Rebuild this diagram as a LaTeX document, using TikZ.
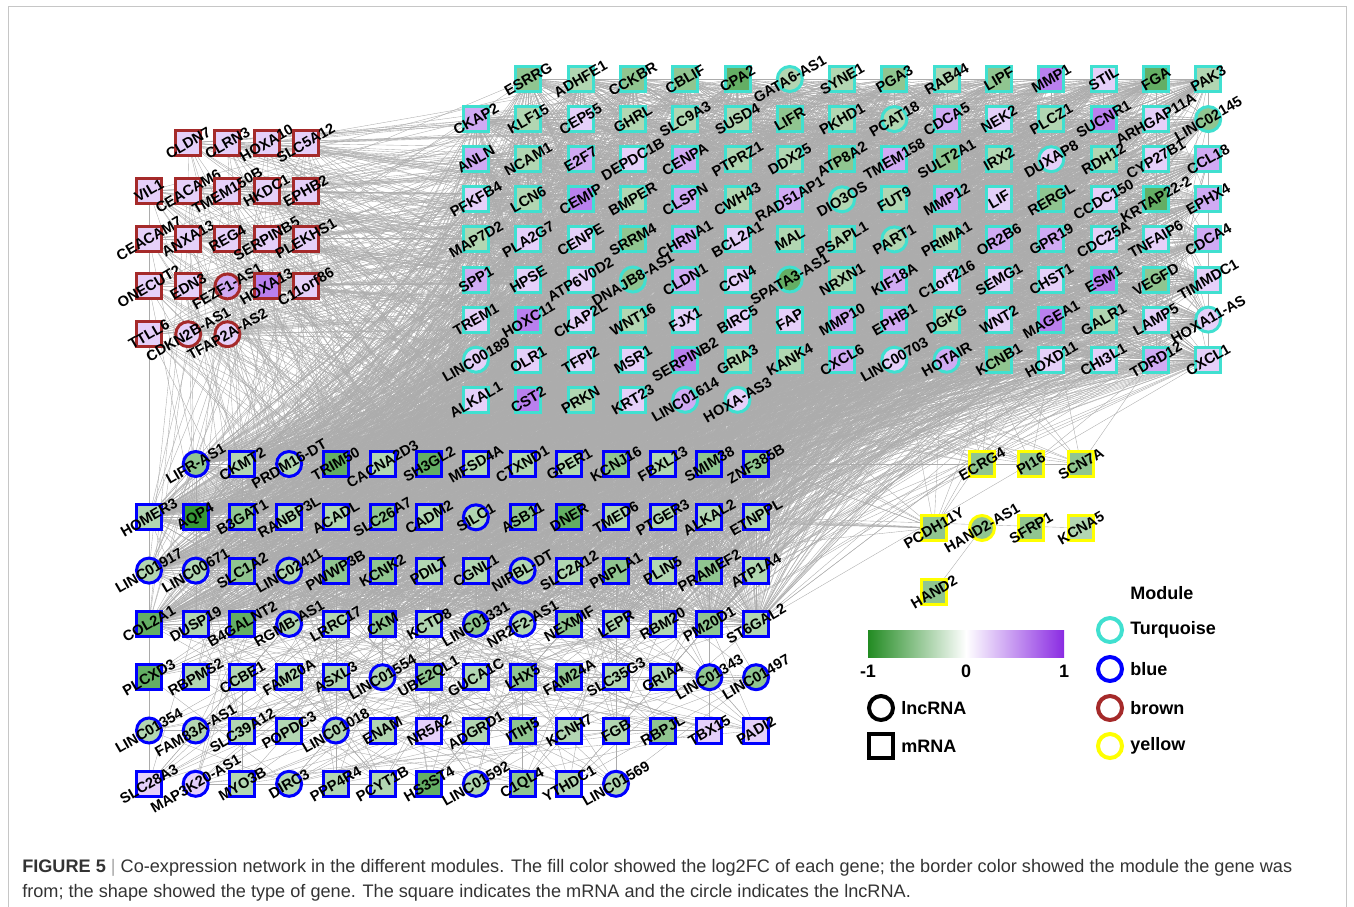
\documentclass[tikz,border=0pt]{standalone}
\usepackage{fontspec}
\setmainfont{Liberation Sans}
\usetikzlibrary{backgrounds}
\definecolor{FCneg}{RGB}{34,139,34}
\definecolor{FCpos}{RGB}{138,43,226}
\definecolor{ModTurq}{RGB}{64,224,208}
\definecolor{ModBlue}{RGB}{0,0,255}
\definecolor{ModBrown}{RGB}{165,42,42}
\definecolor{ModYellow}{RGB}{255,255,0}
\colorlet{g1}{FCneg!35}
\colorlet{g2}{FCneg!50}
\colorlet{g3}{FCneg!70}
\colorlet{g4}{FCneg!90}
\colorlet{p1}{FCpos!22}
\colorlet{p2}{FCpos!40}
\colorlet{p3}{FCpos!60}

\begin{document}
\begin{tikzpicture}[x=0.75pt, y=-0.75pt,
	gene/.style={line width=2.25pt, minimum size=18.75pt, inner sep=0pt, outer sep=0pt},
	sq/.style={gene, rectangle},
	ci/.style={gene, circle},
	glabel/.style={font=\fontsize{11}{11}\selectfont\bfseries, rotate=30, inner sep=0pt},
	legtext/.style={font=\fontsize{13.5}{13.5}\selectfont\bfseries, inner sep=0pt},
	legmark/.style={line width=3pt, minimum size=18pt, inner sep=0pt, fill=white},
	edge/.style={draw=gray!65, line width=0.28pt}]
		\useasboundingbox (0,0) rectangle (1354,907);
		\draw[gray!45, line width=0.6pt] (8,907) -- (8,6) -- (1346,6) -- (1346,907);
		
		% brown module
		\foreach \lab/\shp/\fc [count=\n] in {CLDN7/sq/p1, CLRN3/sq/p1, HOXA10/sq/p1, SLC5A12/sq/p1,
			VIL1/sq/p1, CEACAM6/sq/p1, TMEM150B/sq/p1, HKDC1/sq/p1, EPHB2/sq/p1,
			CEACAM7/sq/p1, ANXA13/sq/p1, REG4/sq/p1, SERPINB5/sq/p1, PLEKHS1/sq/p1,
			ONECUT2/sq/p1, EDN3/sq/p1, FEZF1-AS1/ci/p2, HOXA13/sq/p3, C11orf86/sq/p1,
			TTLL6/sq/p1, CDKN2B-AS1/ci/p1, TFAP2A-AS2/ci/p1}{
			\pgfmathsetmacro\xx{149+39.2*mod(\n,5)}
			\pgfmathsetmacro\yy{143+47.8*floor(\n/5)}
			\node[\shp, draw=ModBrown, fill=\fc, label={[glabel]center:\lab}] (r\n) at (\xx,\yy) {};
		}
		
		% turquoise module
		\foreach \lab/\shp/\fc [count=\n] in {ESRRG/sq/g2, ADHFE1/sq/g1, CCKBR/sq/g2, CBLIF/sq/g2, CPA2/sq/g3, GATA6-AS1/ci/g1, SYNE1/sq/g1, PGA3/sq/g2, RAB44/sq/g1, LIPF/sq/g2, MMP1/sq/p3, STIL/sq/p1, FGA/sq/g3, PAK3/sq/g1,
			CKAP2/sq/p2, KLF15/sq/g1, CEP55/sq/p1, GHRL/sq/g1, SLC9A3/sq/g1, SUSD4/sq/g1, LIFR/sq/g2, PKHD1/sq/g1, PCAT18/ci/g1, CDCA5/sq/p2, NEK2/sq/p1, PLCZ1/sq/g1, SUCNR1/sq/p3, ARHGAP11A/sq/p1, LINC02145/ci/g2,
			ANLN/sq/p2, NCAM1/sq/g1, E2F7/sq/p2, DEPDC1B/sq/p1, CENPA/sq/p2, PTPRZ1/sq/g1, DDX25/sq/g1, ATP8A2/sq/g2, TMEM158/sq/p2, SULT2A1/sq/g2, IRX2/sq/g1, DUXAP8/ci/p1, RDH12/sq/g1, CYP27B1/sq/p1, CCL18/sq/p2,
			PFKFB4/sq/p1, LCN6/sq/g1, CEMIP/sq/p3, BMPER/sq/g1, CLSPN/sq/p2, CWH43/sq/g1, RAD51AP1/sq/p2, DIO3OS/ci/g1, FUT9/sq/g1, MMP12/sq/p2, LIF/sq/p1, RERGL/sq/g2, CCDC150/sq/p1, KRTAP22-2/sq/g3, EPHX4/sq/p2,
			MAP7D2/sq/g1, PLA2G7/sq/p1, CENPE/sq/p1, SRRM4/sq/g2, CHRNA1/sq/p2, BCL2A1/sq/p1, MAL/sq/g1, PSAPL1/sq/g1, PART1/ci/g1, PRIMA1/sq/g1, OR2B6/sq/p2, GPR19/sq/p2, CDC25A/sq/p1, TNFAIP6/sq/p1, CDCA4/sq/p2,
			SPP1/sq/p2, HPSE/sq/p1, ATP6V0D2/sq/p1, DNAJB8-AS1/ci/g2, CLDN1/sq/p2, CCN4/sq/p1, SPATA3-AS1/ci/g3, NRXN1/sq/g1, KIF18A/sq/p2, C1orf216/sq/p1, SEMG1/sq/p1, CHST1/sq/p1, ESM1/sq/p3, VEGFD/sq/g2, TIMMDC1/sq/p1,
			TREM1/sq/p1, HOXC11/sq/p3, CKAP2L/sq/p1, WNT16/sq/g1, FJX1/sq/p1, BIRC5/sq/p1, FAP/sq/p1, MMP10/sq/p2, EPHB1/sq/p2, DGKG/sq/g1, WNT2/sq/p1, MAGEA1/sq/p3, GALR1/sq/g1, LAMP5/sq/p1, HOXA11-AS/ci/p1,
			LINC00189/ci/p1, OLR1/sq/p1, TFPI2/sq/p1, MSR1/sq/p1, SERPINB2/sq/p3, GRIA3/sq/g1, KANK4/sq/g1, CXCL6/sq/p2, LINC00703/ci/p1, HOTAIR/ci/p2, KCNB1/sq/g2, HOXD11/sq/p1, CHI3L1/sq/p1, TDRD12/sq/p2, CXCL1/sq/p1,
			ALKAL1/sq/p1, CST2/sq/p3, PRKN/sq/g1, KRT23/sq/p1, LINC01614/ci/p2, HOXA-AS3/ci/p1}{
			\pgfmathsetmacro\xx{476+52.3*mod(\n,15)}
			\pgfmathsetmacro\yy{79+40.1*floor(\n/15)}
			\node[\shp, draw=ModTurq, fill=\fc, label={[glabel]center:\lab}] (t\n) at (\xx,\yy) {};
		}
		
		% blue module
		\foreach \lab/\shp/\fc [count=\n] in {LIFR-AS1/ci/g2, CKMT2/sq/g1, PRDM16-DT/ci/g1, TRIM50/sq/g3, CACNA2D3/sq/g1, SH3GL2/sq/g3, MFSD4A/sq/g1, CTXND1/sq/g1, GPER1/sq/g1, KCNJ16/sq/g2, FBXL13/sq/g1, SMIM38/sq/g2, ZNF385B/sq/g2,
			HOMER3/sq/g1, AQP4/sq/g4, B3GAT1/sq/g2, RANBP3L/sq/g1, ACADL/sq/g1, SLC26A7/sq/g2, CADM2/sq/g1, SILC1/ci/g1, ASB11/sq/g2, DNER/sq/g3, TMED6/sq/g1, PTGER3/sq/g1, ALKAL2/sq/g1, ETNPPL/sq/g1,
			LINC01917/ci/g1, LINC00671/ci/g1, SLC1A2/sq/g2, LINC02411/ci/g1, PWWP3B/sq/g2, KCNK2/sq/g2, PDILT/sq/g1, CGNL1/sq/g1, NIPBL-DT/ci/g1, SLC2A12/sq/g1, PNPLA1/sq/g2, PLIN5/sq/g1, PRAMEF2/sq/g2, ATP1A4/sq/g1,
			COL2A1/sq/g3, DUSP19/sq/g1, B4GALNT2/sq/g3, RGMB-AS1/ci/g1, LRRC17/sq/g1, CKM/sq/g2, KCTD8/sq/g1, LINC01331/ci/g2, NR2F2-AS1/ci/g1, NEXMIF/sq/g2, LEPR/sq/g1, RBM20/sq/g1, PM20D1/sq/g2, ST6GAL2/sq/g1,
			PLCXD3/sq/g3, RBPMS2/sq/g1, CCBE1/sq/g1, FAM20A/sq/g1, ASXL3/sq/g1, LINC01554/ci/g1, UBE2QL1/sq/g2, GUCA1C/sq/g1, LHX5/sq/g2, FAM24A/sq/g2, SLC35G3/sq/g1, GRIA4/sq/g1, LINC01343/ci/g2, LINC01497/ci/g2,
			LINC01354/ci/g1, FAM83A-AS1/ci/g1, SLC39A12/sq/g1, POPDC3/sq/g1, LINC01018/ci/g1, ENAM/sq/g1, NR5A2/sq/p1, ADGRD1/sq/g1, ITIH5/sq/g2, KCNH7/sq/g1, FGB/sq/g1, RBPJL/sq/g2, TBX15/sq/p1, PADI2/sq/p1,
			SLC28A3/sq/p1, MAP3K20-AS1/ci/p1, MYO3B/sq/g1, DIRC3/ci/g1, PPP4R4/sq/g1, PCYT1B/sq/g1, HS3ST4/sq/g3, LINC01592/ci/g1, C1QL4/sq/g2, YTHDC1/sq/g1, LINC01569/ci/g1}{
			\pgfmathsetmacro\xx{149+46.7*mod(\n,14)}
			\pgfmathsetmacro\yy{464+53.3*floor(\n/14)}
			\node[\shp, draw=ModBlue, fill=\fc, label={[glabel]center:\lab}] (b\n) at (\xx,\yy) {};
		}
		
		% yellow module
		\node[sq, draw=ModYellow, fill=g2, label={[glabel]center:ECRG4}] (y1) at (982,464) {};
		\node[sq, draw=ModYellow, fill=g2, label={[glabel]center:PI16}] (y2) at (1031,464) {};
		\node[sq, draw=ModYellow, fill=g2, label={[glabel]center:SCN7A}] (y3) at (1081,464) {};
		\node[sq, draw=ModYellow, fill=g2, label={[glabel]center:PCDH11Y}] (y4) at (934,528) {};
		\node[ci, draw=ModYellow, fill=g2, label={[glabel]center:HAND2-AS1}] (y5) at (982,528) {};
		\node[sq, draw=ModYellow, fill=g2, label={[glabel]center:SFRP1}] (y6) at (1031,528) {};
		\node[sq, draw=ModYellow, fill=g1, label={[glabel]center:KCNA5}] (y7) at (1081,528) {};
		\node[sq, draw=ModYellow, fill=g2, label={[glabel]center:HAND2}] (y8) at (934,592) {};
		
		% co-expression edges
		\begin{scope}[on background layer]
			\foreach \i in {1,...,125}{
				\foreach \k in {1,...,24}{
					\pgfmathtruncatemacro\j{mod(\i*13+\k*29,55)+1}
					\draw[edge] (t\i) -- (b\j);
				}
				\foreach \k in {1,...,22}{
					\pgfmathtruncatemacro\j{mod(\i*7+\k*23,125)+1}
					\draw[edge] (t\i) -- (t\j);
				}
			}
			\foreach \i in {1,...,55}{
				\foreach \k in {1,...,12}{
					\pgfmathtruncatemacro\j{mod(\i*9+\k*13,55)+1}
					\draw[edge] (b\i) -- (b\j);
				}
			}
			\foreach \i in {1,...,94}{
				\foreach \k in {1,...,5}{
					\pgfmathtruncatemacro\j{mod(\i*11+\k*17,94)+1}
					\draw[edge] (b\i) -- (b\j);
				}
			}
			\foreach \i in {1,...,22}{
				\foreach \k in {1,...,12}{
					\pgfmathtruncatemacro\j{mod(\i*17+\k*41,125)+1}
					\draw[edge] (r\i) -- (t\j);
				}
				\foreach \k in {1,...,8}{
					\pgfmathtruncatemacro\j{mod(\i*7+\k*19,55)+1}
					\draw[edge] (r\i) -- (b\j);
				}
			}
			\foreach \i in {5,10,15,20}
				\foreach \j in {14,28,42,56,70,84}
					\draw[edge] (r\i) -- (b\j);
			\foreach \i in {1,2,3}{
				\foreach \k in {1,...,8}{
					\pgfmathtruncatemacro\j{mod(\i*11+\k*6,50)+76}
					\draw[edge] (y\i) -- (t\j);
				}
			}
			\foreach \k in {1,...,10}{
				\pgfmathtruncatemacro\j{mod(\k*7,45)+80}
				\draw[edge] (y4) -- (t\j);
			}
			\foreach \j in {22,...,27,36,...,41}
				\draw[edge] (y4) -- (b\j);
			\draw[edge] (y5) -- (y8);
			\draw[edge] (b13) -- (y3);
			\draw[edge] (b27) -- (y7);
		\end{scope}
		
		% legend
		\shade[left color=FCneg, right color=white] (868,630) rectangle (966,657);
		\shade[left color=white, right color=FCpos] (966,630) rectangle (1064,657);
		\node[legtext] (lo) at (868,671) {-1};
		\node[legtext] (mid) at (966,671) {0};
		\node[legtext] (hi) at (1064,671) {1};
		\node[legmark, circle, draw=black] (lnc) at (881,708) {};
		\node[legtext, anchor=west] at (901,708) {lncRNA};
		\node[legmark, rectangle, draw=black] (mrna) at (881,746) {};
		\node[legtext, anchor=west] at (901,746) {mRNA};
		\node[legtext, anchor=west] at (1130,593) {Module};
		\foreach \col/\txt/\yy in {ModTurq/Turquoise/630, ModBlue/blue/669, ModBrown/brown/708, ModYellow/yellow/746}{
			\node[legmark, circle, draw=\col] (m\txt) at (1110,\yy) {};
			\node[legtext, anchor=west] at (1130,\yy) {\txt};
		}
		
		% caption
		\node[anchor=base west, inner sep=0pt, font=\fontsize{13.6}{13.6}\selectfont, text=black!80] (cap1) at (22,872)
			{\textbf{FIGURE 5} {\color{gray!70}|} Co-expression network in the different modules. The fill color showed the log2FC of each gene; the border color showed the module the gene was};
		\node[anchor=base west, inner sep=0pt, font=\fontsize{13.6}{13.6}\selectfont, text=black!80] (cap2) at (22,897)
			{from; the shape showed the type of gene. The square indicates the mRNA and the circle indicates the lncRNA.};
	\end{tikzpicture}
\end{document}
